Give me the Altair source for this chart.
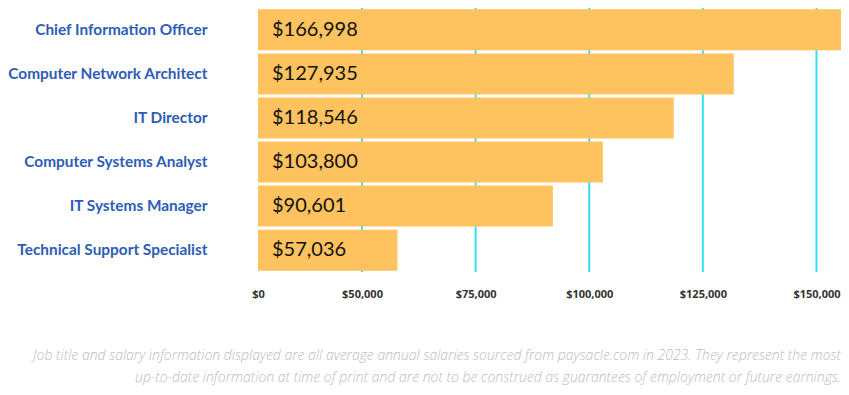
import altair as alt
import pandas as pd

jobs = [
    "Chief Information Officer",
    "Computer Network Architect",
    "IT Director",
    "Computer Systems Analyst",
    "IT Systems Manager",
    "Technical Support Specialist",
]
salaries = [166998, 127935, 118546, 103800, 90601, 57036]
# bar lengths as drawn in the picture, read against the gridlines
bar_lengths = [166998, 131800, 118600, 103000, 92000, 57800]
axis_min = 27113
axis_max = 155400
tick_values = [27113, 50000, 75000, 100000, 125000, 150000]
grid_values = [50000, 75000, 100000, 125000, 150000]
footer = [
    "Job title and salary information displayed are all average annual salaries sourced from paysacle.com in 2023. They represent the most",
    "up-to-date information at time of print and are not to be construed as guarantees of employment or future earnings.",
]

df = pd.DataFrame({
    "job": jobs,
    "bar": bar_lengths,
    "label": ["$" + format(s, ",") for s in salaries],
})
grid_df = pd.DataFrame({"g": grid_values})

x_scale = alt.Scale(domain=[axis_min, axis_max], nice=False, zero=False)
y_enc = alt.Y(
    "job:N",
    sort=jobs,
    scale=alt.Scale(paddingInner=0.07, paddingOuter=0.03),
    axis=alt.Axis(
        title=None, ticks=False, domain=False,
        labelFont="Lato", labelFontWeight="bold", labelFontSize=15.4,
        labelColor="#2d5db5", labelPadding=51, labelLimit=400,
    ),
)

grid = alt.Chart(grid_df).mark_rule(color="#36def4", strokeWidth=2).encode(
    x=alt.X("g:Q", scale=x_scale),
    y=alt.value(0),
    y2=alt.value(264),
)

bars = alt.Chart(df).mark_bar(color="#fec35f", clip=True).encode(
    x=alt.X(
        "bar:Q", scale=x_scale,
        axis=alt.Axis(
            title=None, values=tick_values, grid=False, ticks=False, domain=False,
            labelExpr="datum.value < 30000 ? '$0' : '$' + format(datum.value, ',')",
            labelFont="Open Sans", labelFontWeight="bold", labelFontSize=11,
            labelColor="#333333", labelPadding=16, labelFlush=False,
        ),
    ),
    x2=alt.value(0),
    y=y_enc,
)

texts = alt.Chart(df).mark_text(
    align="left", baseline="middle", font="Lato", fontSize=20, color="#111111"
).encode(
    x=alt.value(14),
    y=alt.Y("job:N", sort=jobs),
    text="label:N",
)

chart = alt.layer(grid, bars, texts).properties(
    width=583,
    height=264,
    autosize=alt.AutoSizeParams(type="none"),
    padding={"left": 250, "top": 0, "right": 0, "bottom": 122},
    title=alt.TitleParams(
        text=footer, orient="bottom", anchor="end", offset=50,
        font="Open Sans", fontStyle="italic", fontWeight=300, fontSize=14,
        color="#bcbcbc", lineHeight=22,
    ),
).configure_view(strokeWidth=0)

chart.save("out.html", embed_options={"renderer": "svg", "actions": False})
